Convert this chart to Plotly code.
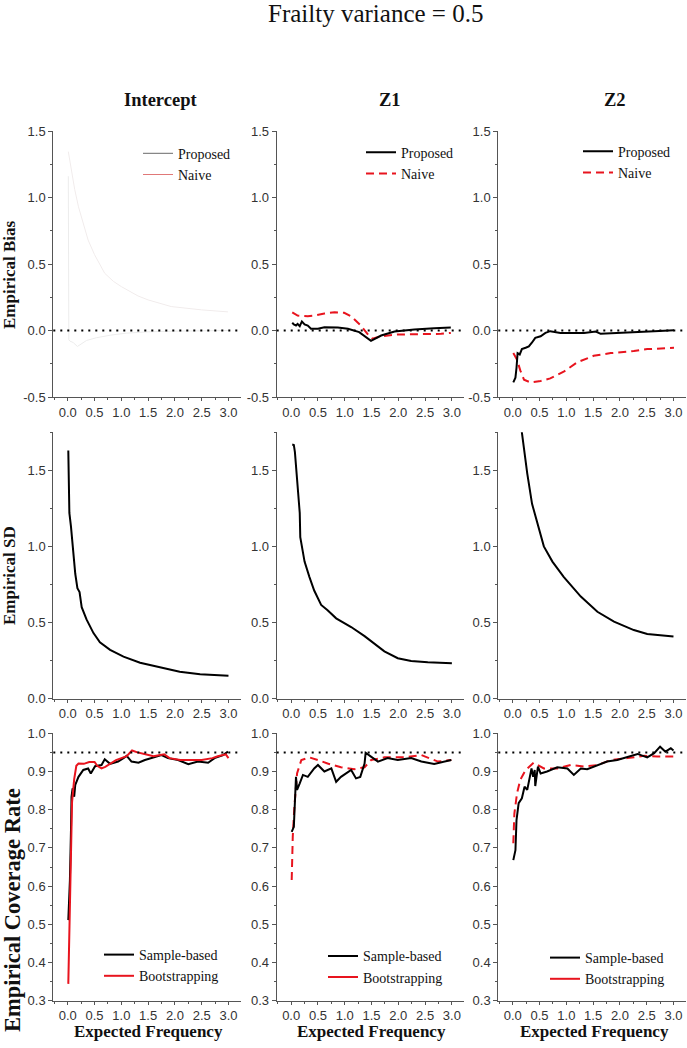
import plotly.graph_objects as go

W, H = 687, 1048

TITLE = "Frailty variance = 0.5"
COL_TITLES = ["Intercept", "Z1", "Z2"]
ROW_TITLES = ["Empirical Bias", "Empirical SD", "Empirical Coverage Rate"]
X_TITLE = "Expected Frequency"
X_TICKS = [0.0, 0.5, 1.0, 1.5, 2.0, 2.5, 3.0]
BIAS_TICKS = [-0.5, 0.0, 0.5, 1.0, 1.5]
SD_TICKS = [0.0, 0.5, 1.0, 1.5]
COV_TICKS = [0.3, 0.4, 0.5, 0.6, 0.7, 0.8, 0.9, 1.0]
BIAS_REF = 0.0
COV_REF = 0.95

# ---------------- Row 1: Empirical bias ----------------
INT_BIAS_PROP_X = [0.01, 0.02, 0.04, 0.1, 0.18, 0.25, 0.35, 0.53, 0.8, 1.09, 1.5, 2.0, 2.5, 2.99]
INT_BIAS_PROP_Y = [1.16, -0.07, -0.08, -0.09, -0.12, -0.10, -0.075, -0.055, -0.035, -0.02, -0.01, -0.005, 0.0, 0.0]
INT_BIAS_NAIVE_X = [0.01, 0.05, 0.1, 0.13, 0.2, 0.3, 0.38, 0.5, 0.69, 0.85, 1.0, 1.31, 1.5, 1.93, 2.5, 2.99]
INT_BIAS_NAIVE_Y = [1.345, 1.25, 1.12, 1.06, 0.93, 0.78, 0.68, 0.57, 0.43, 0.37, 0.33, 0.26, 0.23, 0.18, 0.155, 0.14]

Z1_BIAS_PROP_X = [0.02, 0.05, 0.09, 0.12, 0.16, 0.2, 0.25, 0.31, 0.37, 0.5, 0.62, 0.87, 1.06, 1.27, 1.49, 1.68, 1.93, 2.3, 2.67, 2.98]
Z1_BIAS_PROP_Y = [0.058, 0.045, 0.038, 0.05, 0.032, 0.068, 0.045, 0.037, 0.013, 0.013, 0.025, 0.022, 0.013, -0.012, -0.078, -0.038, -0.008, 0.008, 0.017, 0.023]
Z1_BIAS_NAIVE_X = [0.02, 0.12, 0.31, 0.43, 0.62, 0.81, 0.99, 1.12, 1.3, 1.46, 1.52, 1.68, 1.99, 2.42, 2.8, 2.98]
Z1_BIAS_NAIVE_Y = [0.137, 0.112, 0.107, 0.112, 0.128, 0.137, 0.133, 0.107, 0.037, -0.043, -0.062, -0.043, -0.03, -0.03, -0.025, -0.018]

Z2_BIAS_PROP_X = [0.01, 0.05, 0.07, 0.09, 0.13, 0.17, 0.24, 0.3, 0.36, 0.42, 0.52, 0.61, 0.7, 0.89, 1.33, 1.55, 1.64, 1.95, 2.26, 2.64, 3.01]
Z2_BIAS_PROP_Y = [-0.39, -0.355, -0.28, -0.17, -0.18, -0.14, -0.13, -0.12, -0.09, -0.055, -0.043, -0.018, -0.005, -0.018, -0.018, -0.008, -0.025, -0.018, -0.008, -0.005, 0.002]
Z2_BIAS_NAIVE_X = [0.01, 0.08, 0.14, 0.21, 0.33, 0.52, 0.7, 0.95, 1.2, 1.51, 1.83, 2.26, 2.51, 3.01]
Z2_BIAS_NAIVE_Y = [-0.17, -0.22, -0.3, -0.37, -0.39, -0.38, -0.36, -0.31, -0.24, -0.19, -0.17, -0.155, -0.14, -0.13]

# ---------------- Row 2: Empirical SD ----------------
INT_SD_X = [0.01, 0.02, 0.03, 0.06, 0.09, 0.14, 0.18, 0.22, 0.26, 0.35, 0.48, 0.6, 0.79, 1.04, 1.35, 1.72, 2.09, 2.47, 3.0]
INT_SD_Y = [1.63, 1.44, 1.22, 1.13, 1.0, 0.82, 0.725, 0.70, 0.60, 0.52, 0.43, 0.37, 0.32, 0.275, 0.235, 0.205, 0.176, 0.16, 0.15]

Z1_SD_X = [0.02, 0.05, 0.07, 0.11, 0.16, 0.17, 0.22, 0.25, 0.34, 0.43, 0.56, 0.68, 0.84, 1.12, 1.37, 1.55, 1.74, 1.99, 2.24, 2.55, 3.0]
Z1_SD_Y = [1.67, 1.667, 1.62, 1.44, 1.22, 1.06, 0.955, 0.90, 0.80, 0.71, 0.615, 0.58, 0.527, 0.47, 0.41, 0.36, 0.31, 0.265, 0.247, 0.238, 0.232]

Z2_SD_X = [0.02, 0.1, 0.17, 0.27, 0.36, 0.46, 0.58, 0.74, 0.95, 1.27, 1.58, 1.89, 2.26, 2.51, 2.82, 3.0]
Z2_SD_Y = [2.6, 2.05, 1.75, 1.48, 1.28, 1.15, 1.0, 0.90, 0.80, 0.67, 0.57, 0.505, 0.45, 0.424, 0.413, 0.407]

# ---------------- Row 3: Empirical coverage rate ----------------
INT_COV_SB_X = [0.01, 0.04, 0.06, 0.07, 0.09, 0.1, 0.12, 0.14, 0.2, 0.29, 0.38, 0.43, 0.51, 0.63, 0.69, 0.79, 0.94, 1.04, 1.1, 1.19, 1.32, 1.44, 1.63, 1.75, 1.87, 2.06, 2.25, 2.43, 2.62, 2.74, 2.9, 2.99]
INT_COV_SB_Y = [0.511, 0.616, 0.747, 0.834, 0.856, 0.85, 0.834, 0.865, 0.886, 0.904, 0.908, 0.895, 0.914, 0.917, 0.932, 0.92, 0.926, 0.935, 0.941, 0.926, 0.923, 0.93, 0.937, 0.943, 0.935, 0.93, 0.919, 0.926, 0.923, 0.935, 0.943, 0.952]
INT_COV_BS_X = [0.01, 0.03, 0.05, 0.08, 0.12, 0.16, 0.2, 0.3, 0.4, 0.5, 0.55, 0.63, 0.7, 0.8, 0.9, 1.0, 1.1, 1.2, 1.3, 1.45, 1.6, 1.8, 1.9, 2.1, 2.3, 2.5, 2.7, 2.8, 2.95, 3.0]
INT_COV_BS_Y = [0.344, 0.5, 0.68, 0.82, 0.88, 0.915, 0.921, 0.92, 0.925, 0.925, 0.915, 0.908, 0.912, 0.92, 0.93, 0.935, 0.94, 0.955, 0.95, 0.945, 0.94, 0.945, 0.935, 0.93, 0.93, 0.93, 0.935, 0.94, 0.945, 0.935]

Z1_COV_SB_X = [0.01, 0.05, 0.09, 0.11, 0.16, 0.22, 0.31, 0.43, 0.5, 0.62, 0.75, 0.84, 0.93, 1.03, 1.12, 1.21, 1.29, 1.37, 1.39, 1.49, 1.62, 1.8, 1.99, 2.24, 2.43, 2.67, 2.99]
Z1_COV_SB_Y = [0.742, 0.755, 0.886, 0.852, 0.869, 0.891, 0.886, 0.908, 0.917, 0.9, 0.908, 0.873, 0.886, 0.895, 0.904, 0.882, 0.886, 0.921, 0.949, 0.939, 0.926, 0.935, 0.93, 0.935, 0.926, 0.92, 0.93]
Z1_COV_BS_X = [0.01, 0.03, 0.06, 0.11, 0.19, 0.34, 0.5, 0.68, 0.93, 1.18, 1.37, 1.49, 1.74, 2.11, 2.43, 2.74, 2.99]
Z1_COV_BS_Y = [0.616, 0.73, 0.808, 0.895, 0.93, 0.937, 0.93, 0.921, 0.911, 0.906, 0.911, 0.93, 0.937, 0.937, 0.943, 0.926, 0.93]

Z2_COV_SB_X = [0.01, 0.05, 0.07, 0.11, 0.17, 0.22, 0.27, 0.32, 0.35, 0.38, 0.41, 0.42, 0.47, 0.52, 0.64, 0.83, 1.02, 1.14, 1.27, 1.39, 1.58, 1.76, 1.95, 2.07, 2.33, 2.51, 2.64, 2.75, 2.85, 2.95, 3.0]
Z2_COV_SB_Y = [0.668, 0.694, 0.773, 0.817, 0.83, 0.86, 0.852, 0.886, 0.908, 0.886, 0.904, 0.862, 0.913, 0.895, 0.9, 0.911, 0.908, 0.891, 0.908, 0.906, 0.917, 0.926, 0.93, 0.935, 0.946, 0.937, 0.948, 0.965, 0.952, 0.961, 0.955]
Z2_COV_BS_X = [0.01, 0.03, 0.08, 0.14, 0.24, 0.39, 0.58, 0.83, 1.08, 1.33, 1.58, 1.83, 2.14, 2.45, 2.7, 3.0]
Z2_COV_BS_Y = [0.712, 0.79, 0.843, 0.878, 0.904, 0.923, 0.908, 0.908, 0.917, 0.913, 0.917, 0.93, 0.935, 0.941, 0.939, 0.939]

# ---------------- Layout geometry (target pixels in the picture) ----------------
COL_PX = [(53.3, 240.8), (276.7, 464.2), (498.3, 685.8)]
ROW_PX = [(131.0, 397.0), (432.3, 698.5), (733.3, 1000.7)]
ROW_RANGES = [[-0.5, 1.5], [0.0, 1.75], [0.3, 1.0]]
ROW_TICKS = [BIAS_TICKS, SD_TICKS, COV_TICKS]
ROW_MINOR = [0.25, 0.25, 0.05]
X_RANGE = [-0.27, 3.23]

BLACK = "#000000"
RED = "#e8141e"
AXIS_COLOR = "#555555"
TEXT_COLOR = "#111111"
SERIF = "Liberation Serif, Times New Roman, serif"
SANS = "Liberation Sans, Arial, sans-serif"


def px_x(p):
    return p / W


def px_y(p):
    return 1 - p / H


fig = go.Figure()
layout = dict(
    width=W, height=H, margin=dict(l=0, r=0, t=0, b=0, pad=0, autoexpand=False),
    paper_bgcolor="white", plot_bgcolor="white", showlegend=True,
)

for r in range(3):
    for c in range(3):
        k = r * 3 + c + 1
        sfx = "" if k == 1 else str(k)
        layout["xaxis" + sfx] = dict(
            domain=[px_x(COL_PX[c][0]), px_x(COL_PX[c][1])],
            range=X_RANGE, anchor="y" + sfx, automargin=False,
            tickvals=X_TICKS, ticktext=[f"{v:.1f}" for v in X_TICKS],
            ticks="outside", ticklen=3, tickcolor=AXIS_COLOR,
            showline=True, linecolor=AXIS_COLOR, linewidth=1,
            showgrid=False, zeroline=False,
            tickfont=dict(family=SANS, size=13, color="#333333"),
            minor=dict(dtick=0.25, tick0=0, ticks="outside", ticklen=2, tickcolor=AXIS_COLOR),
        )
        layout["yaxis" + sfx] = dict(
            domain=[px_y(ROW_PX[r][1]), px_y(ROW_PX[r][0])],
            range=ROW_RANGES[r], anchor="x" + sfx, automargin=False,
            tickvals=ROW_TICKS[r], ticktext=[f"{v:.1f}" for v in ROW_TICKS[r]],
            ticks="outside", ticklen=4, tickcolor=AXIS_COLOR,
            showline=True, linecolor=AXIS_COLOR, linewidth=1,
            showgrid=False, zeroline=False,
            tickfont=dict(family=SANS, size=13, color="#333333"),
            minor=dict(dtick=ROW_MINOR[r], tick0=0, ticks="outside", ticklen=2, tickcolor=AXIS_COLOR),
        )


def ax(r, c):
    k = r * 3 + c + 1
    return ("x" if k == 1 else "x" + str(k)), ("y" if k == 1 else "y" + str(k))


def add_line(r, c, xs, ys, color, width=2, dash="solid"):
    xa, ya = ax(r, c)
    fig.add_trace(go.Scatter(x=xs, y=ys, mode="lines", xaxis=xa, yaxis=ya,
                             line=dict(color=color, width=width, dash=dash),
                             showlegend=False, hoverinfo="skip"))


def add_legend_entry(r, c, name, color, width, dash, legend_id):
    xa, ya = ax(r, c)
    fig.add_trace(go.Scatter(x=[None], y=[None], mode="lines", xaxis=xa, yaxis=ya,
                             name=name, line=dict(color=color, width=width, dash=dash),
                             showlegend=True, legend=legend_id))


RED_DASH = "8px,5px"

# Row 1
add_line(0, 0, INT_BIAS_NAIVE_X, INT_BIAS_NAIVE_Y, "#f1ecec", 1)
add_line(0, 0, INT_BIAS_PROP_X, INT_BIAS_PROP_Y, "#ececec", 1)
add_line(0, 1, Z1_BIAS_NAIVE_X, Z1_BIAS_NAIVE_Y, RED, 2, RED_DASH)
add_line(0, 1, Z1_BIAS_PROP_X, Z1_BIAS_PROP_Y, BLACK, 2)
add_line(0, 2, Z2_BIAS_NAIVE_X, Z2_BIAS_NAIVE_Y, RED, 2, RED_DASH)
add_line(0, 2, Z2_BIAS_PROP_X, Z2_BIAS_PROP_Y, BLACK, 2)
# Row 2
add_line(1, 0, INT_SD_X, INT_SD_Y, BLACK, 2)
add_line(1, 1, Z1_SD_X, Z1_SD_Y, BLACK, 2)
add_line(1, 2, Z2_SD_X, Z2_SD_Y, BLACK, 2)
# Row 3
add_line(2, 0, INT_COV_SB_X, INT_COV_SB_Y, BLACK, 2)
add_line(2, 0, INT_COV_BS_X, INT_COV_BS_Y, RED, 2)
add_line(2, 1, Z1_COV_BS_X, Z1_COV_BS_Y, RED, 2, RED_DASH)
add_line(2, 1, Z1_COV_SB_X, Z1_COV_SB_Y, BLACK, 2)
add_line(2, 2, Z2_COV_BS_X, Z2_COV_BS_Y, RED, 2, RED_DASH)
add_line(2, 2, Z2_COV_SB_X, Z2_COV_SB_Y, BLACK, 2)

# Legends
add_legend_entry(0, 0, "Proposed", "#6a6a6a", 1, "solid", "legend")
add_legend_entry(0, 0, "Naive", "#e07878", 1, "solid", "legend")
add_legend_entry(0, 1, "Proposed", BLACK, 2, "solid", "legend2")
add_legend_entry(0, 1, "Naive", RED, 2, RED_DASH, "legend2")
add_legend_entry(0, 2, "Proposed", BLACK, 2, "solid", "legend3")
add_legend_entry(0, 2, "Naive", RED, 2, RED_DASH, "legend3")
add_legend_entry(2, 0, "Sample-based", BLACK, 2, "solid", "legend4")
add_legend_entry(2, 0, "Bootstrapping", RED, 2, "solid", "legend4")
add_legend_entry(2, 1, "Sample-based", BLACK, 2, "solid", "legend5")
add_legend_entry(2, 1, "Bootstrapping", RED, 2, "solid", "legend5")
add_legend_entry(2, 2, "Sample-based", BLACK, 2, "solid", "legend6")
add_legend_entry(2, 2, "Bootstrapping", RED, 2, "solid", "legend6")

LEGEND_POS = {  # line start x, first item centre y (target pixels)
    "legend": (143, 152.7), "legend2": (366, 151.7), "legend3": (583, 150.7),
    "legend4": (104, 954), "legend5": (328, 955.3), "legend6": (550, 957),
}
for key, (lx, ly) in LEGEND_POS.items():
    layout[key] = dict(
        x=px_x(lx - 5), y=px_y(ly - 15), xanchor="left", yanchor="top",
        xref="paper", yref="paper", bgcolor="rgba(0,0,0,0)", borderwidth=0,
        font=dict(family=SERIF, size=14, color=TEXT_COLOR), tracegroupgap=0,
        traceorder="normal",
    )

# Reference lines
shapes = []
for c in range(3):
    xa, ya = ax(0, c)
    shapes.append(dict(type="line", xref=xa + " domain", yref=ya, x0=0, x1=1, y0=BIAS_REF, y1=BIAS_REF,
                       line=dict(color=BLACK, width=2, dash="2px,5px")))
    xa, ya = ax(2, c)
    shapes.append(dict(type="line", xref=xa + " domain", yref=ya, x0=0, x1=1, y0=COV_REF, y1=COV_REF,
                       line=dict(color=BLACK, width=2, dash="2px,5px")))
layout["shapes"] = shapes

ann = []
ann.append(dict(text=TITLE, x=px_x(375), y=px_y(13.5), xref="paper", yref="paper",
                showarrow=False, xanchor="center", yanchor="middle",
                font=dict(family=SERIF, size=25, color=TEXT_COLOR)))
for t, cx in zip(COL_TITLES, [160, 390, 615]):
    ann.append(dict(text=f"<b>{t}</b>", x=px_x(cx), y=px_y(100), xref="paper", yref="paper",
                    showarrow=False, xanchor="center", yanchor="middle",
                    font=dict(family=SERIF, size=18.5, color=TEXT_COLOR)))
for t, cx, cy, fs in zip(ROW_TITLES, [9, 9, 12], [275, 576, 910], [17, 17, 22.5]):
    ann.append(dict(text=f"<b>{t}</b>", x=px_x(cx), y=px_y(cy), xref="paper", yref="paper",
                    showarrow=False, xanchor="center", yanchor="middle", textangle=-90,
                    font=dict(family=SERIF, size=fs, color=TEXT_COLOR)))
for cx in [148, 371, 594]:
    ann.append(dict(text=f"<b>{X_TITLE}</b>", x=px_x(cx), y=px_y(1031), xref="paper", yref="paper",
                    showarrow=False, xanchor="center", yanchor="middle",
                    font=dict(family=SERIF, size=17, color=TEXT_COLOR)))
layout["annotations"] = ann

fig.update_layout(**layout)

# place the figure flush with the page corner (no default body margin)
PAGE_STYLE_JS = (
    "document.documentElement.style.margin='0';"
    "document.documentElement.style.overflow='hidden';"
    "document.body.style.margin='0';"
    "document.body.style.padding='0';"
    "document.body.style.overflow='hidden';"
)
fig.write_html("out.html", post_script=PAGE_STYLE_JS,
               config={"displayModeBar": False, "staticPlot": True})
